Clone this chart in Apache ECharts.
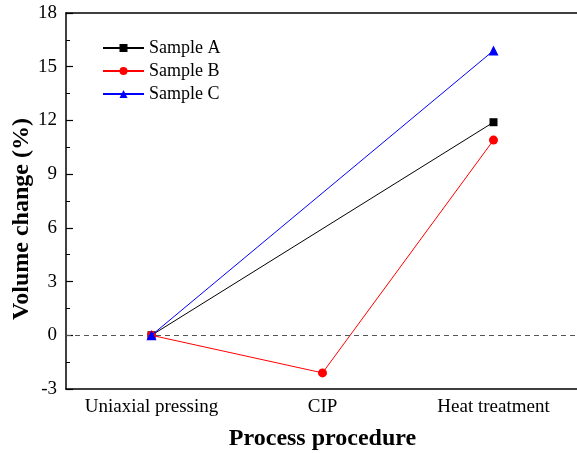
<!DOCTYPE html>
<html>
<head>
<meta charset="utf-8">
<script src="https://cdn.jsdelivr.net/npm/echarts@6/dist/echarts.min.js"></script>
<style>
  html, body { margin: 0; padding: 0; background: #fff; }
  #chart { width: 577px; height: 453px; }
</style>
</head>
<body>
<div id="chart"></div>
<script>
const categories = ['Uniaxial pressing', 'CIP', 'Heat treatment']
const sampleA = [0, null, 11.9]
const sampleB = [0, -2.1, 10.9]
const sampleC = [0, null, 15.9]
const yTicks = { min: -3, max: 18, interval: 3 }

const chart = echarts.init(document.getElementById('chart'))
const font = 'Liberation Serif, Times New Roman, serif'

const option = {
  backgroundColor: '#fff',
  textStyle: { fontFamily: font },
  grid: { left: 66, top: 13, width: 513, height: 376, containLabel: false, outerBoundsMode: 'none' },
  legend: {
    left: 102,
    top: 39,
    padding: 0,
    orient: 'vertical',
    itemWidth: 41,
    itemHeight: 10,
    itemGap: 5,
    textStyle: { fontFamily: font, fontSize: 18, color: '#000' },
    data: ['Sample A', 'Sample B', 'Sample C'],
  },
  xAxis: [
    {
      type: 'category',
      data: categories,
      position: 'bottom',
      name: 'Process procedure',
      nameLocation: 'middle',
      nameGap: 38,
      nameTextStyle: { fontFamily: font, fontSize: 24, fontWeight: 'bold', color: '#000' },
      axisLine: { onZero: false, lineStyle: { color: '#000', width: 1.5 } },
      axisTick: { inside: true, alignWithLabel: true, interval: 0, length: 7, lineStyle: { color: '#000', width: 1.2 } },
      axisLabel: { interval: 0, fontFamily: font, fontSize: 19, color: '#000', margin: 9 },
      splitLine: { show: false },
    },
    {
      type: 'category',
      data: categories,
      position: 'bottom',
      axisLine: { show: false, onZero: false },
      axisTick: { inside: true, interval: 0, length: 4, lineStyle: { color: '#000', width: 1 } },
      axisLabel: { show: false },
      splitLine: { show: false },
    },
    {
      type: 'category',
      data: categories,
      position: 'top',
      axisLine: { onZero: false, lineStyle: { color: '#000', width: 1.5 } },
      axisTick: { inside: true, alignWithLabel: true, interval: 0, length: 7, lineStyle: { color: '#000', width: 1.2 } },
      axisLabel: { show: false },
      splitLine: { show: false },
    },
  ],
  yAxis: {
    type: 'value',
    min: yTicks.min,
    max: yTicks.max,
    interval: yTicks.interval,
    name: 'Volume change (%)',
    nameLocation: 'middle',
    nameGap: 32,
    nameMoveOverlap: false,
    nameTextStyle: { fontFamily: font, fontSize: 24, fontWeight: 'bold', color: '#000', padding: [0, 36, 0, 0] },
    axisLine: { show: true, lineStyle: { color: '#000', width: 1.5 } },
    axisTick: { show: true, inside: true, length: 7, lineStyle: { color: '#000', width: 1.2 } },
    minorTick: { show: true, splitNumber: 2, length: 4, lineStyle: { color: '#000', width: 1 } },
    axisLabel: { fontFamily: font, fontSize: 19, color: '#000', margin: 9 },
    splitLine: { show: false },
  },
  series: [
    {
      name: 'Sample A',
      type: 'line',
      data: sampleA,
      connectNulls: true,
      symbol: 'rect',
      symbolSize: 8,
      color: '#000',
      lineStyle: { width: 1, color: '#000' },
      itemStyle: { color: '#000' },
      markLine: {
        silent: true,
        symbol: 'none',
        label: { show: false },
        lineStyle: { type: [5, 4], color: '#555', width: 1.2 },
        data: [{ yAxis: 0 }],
      },
      z: 3,
    },
    {
      name: 'Sample B',
      type: 'line',
      data: sampleB,
      symbol: 'circle',
      symbolSize: 9,
      color: '#ff0000',
      lineStyle: { width: 1, color: '#ff0000' },
      itemStyle: { color: '#ff0000' },
      z: 4,
    },
    {
      name: 'Sample C',
      type: 'line',
      data: sampleC,
      connectNulls: true,
      symbol: 'triangle',
      symbolSize: 10,
      color: '#0000ff',
      lineStyle: { width: 1, color: '#0000ff' },
      itemStyle: { color: '#0000ff' },
      z: 5,
    },
  ],
}

option && chart.setOption(option)
</script>
</body>
</html>
